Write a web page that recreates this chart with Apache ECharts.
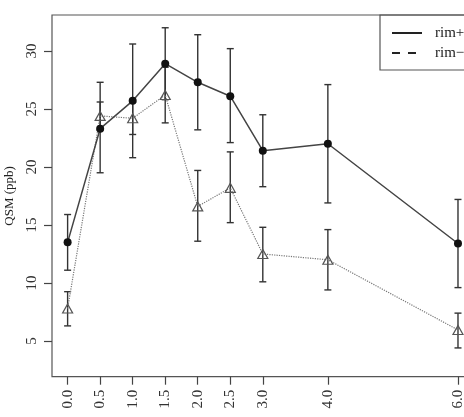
<!DOCTYPE html>
<html>
<head>
<meta charset="utf-8">
<script src="https://cdn.jsdelivr.net/npm/echarts@6/dist/echarts.min.js"></script>
<style>
    html, body { margin: 0; padding: 0; background: #fff; }
    #chart { width: 464px; height: 417px; }
</style>
</head>
<body>
<div id="chart"></div>
<script>
const xValues = [0, 0.5, 1, 1.5, 2, 2.5, 3, 4, 6]
const xTicks = [0, 0.5, 1, 1.5, 2, 2.5, 3, 4, 6]
const yTicks = [5, 10, 15, 20, 25, 30]

const rimPlus = [13.5, 23.3, 25.7, 28.9, 27.3, 26.1, 21.4, 22.0, 13.4]
const rimPlusLow = [11.1, 19.5, 20.8, 25.8, 23.2, 22.1, 18.3, 16.9, 9.6]
const rimPlusHigh = [15.9, 27.3, 30.6, 32.0, 31.4, 30.2, 24.5, 27.1, 17.2]

const rimMinus = [7.8, 24.4, 24.2, 26.2, 16.6, 18.2, 12.5, 12.0, 5.95]
const rimMinusLow = [6.3, 23.2, 22.8, 23.8, 13.6, 15.2, 10.1, 9.4, 4.4]
const rimMinusHigh = [9.25, 25.6, 25.6, 28.6, 19.7, 21.3, 14.8, 14.6, 7.4]

const font = 'Liberation Serif'

function pairs(ys) {
    return xValues.map((x, i) => [x, ys[i]])
}

function bars(lo, hi) {
    return xValues.map((x, i) => [x, lo[i], hi[i]])
}

function renderErrorBar(params, api) {
    const x = api.value(0)
    const top = api.coord([x, api.value(2)])
    const bottom = api.coord([x, api.value(1)])
    const cap = 3.5
    const style = { stroke: '#333', lineWidth: 1.4 }
    return {
        type: 'group',
        children: [
            { type: 'line', shape: { x1: top[0], y1: top[1], x2: bottom[0], y2: bottom[1] }, style: style },
            { type: 'line', shape: { x1: top[0] - cap, y1: top[1], x2: top[0] + cap, y2: top[1] }, style: style },
            { type: 'line', shape: { x1: bottom[0] - cap, y1: bottom[1], x2: bottom[0] + cap, y2: bottom[1] }, style: style }
        ]
    }
}

const chart = echarts.init(document.getElementById('chart'))

chart.setOption({
    animation: false,
    textStyle: { fontFamily: font },
    grid: {
        left: 52,
        top: 15,
        right: -9.6,
        bottom: 40.3,
        containLabel: false,
        outerBoundsMode: 'none',
        show: true,
        borderColor: '#555',
        borderWidth: 1.2
    },
    legend: {
        left: 380,
        top: 15,
        orient: 'vertical',
        padding: [10.5, 40, 9.5, 12],
        itemGap: 5,
        itemWidth: 30,
        itemHeight: 2,
        symbolKeepAspect: false,
        borderColor: '#555',
        borderWidth: 1.2,
        textStyle: { fontFamily: font, fontSize: 15, color: '#222', padding: [0, 0, 0, 8] },
        data: [
            { name: 'rim+', icon: 'rect', itemStyle: { color: '#222', borderWidth: 0 } },
            { name: 'rim\u2212', icon: 'path://M0,0h8v2h-8zM16,0h8v2h-8zM30,0h0.01v0.01h-0.01z', itemStyle: { color: '#222', borderWidth: 0 } }
        ]
    },
    xAxis: {
        type: 'value',
        min: -0.24,
        max: 6.24,
        axisLine: { show: false, onZero: false },
        splitLine: { show: false },
        axisTick: { show: true, inside: false, length: 8, customValues: xTicks, lineStyle: { color: '#444', width: 1.2 } },
        axisLabel: {
            customValues: xTicks,
            rotate: 90,
            margin: 13,
            fontSize: 15,
            fontFamily: font,
            color: '#333',
            formatter: v => v.toFixed(1)
        }
    },
    yAxis: {
        type: 'value',
        min: 1.92,
        max: 33.1,
        name: 'QSM (ppb)',
        nameLocation: 'middle',
        nameGap: 36,
        nameTextStyle: { fontFamily: font, fontSize: 13, color: '#222' },
        axisLine: { show: false, onZero: false },
        splitLine: { show: false },
        axisTick: { show: true, inside: false, length: 8, customValues: yTicks, lineStyle: { color: '#444', width: 1.2 } },
        axisLabel: {
            customValues: yTicks,
            rotate: 90,
            margin: 12,
            fontSize: 15,
            fontFamily: font,
            color: '#333'
        }
    },
    series: [{
        type: 'custom',
        renderItem: renderErrorBar,
        data: bars(rimPlusLow, rimPlusHigh),
        z: 1
    }, {
        type: 'custom',
        renderItem: renderErrorBar,
        data: bars(rimMinusLow, rimMinusHigh),
        z: 1
    }, {
        name: 'rim\u2212',
        type: 'line',
        data: pairs(rimMinus),
        symbol: 'triangle',
        symbolSize: [10, 9],
        lineStyle: { color: '#777', width: 1.2, type: 'dotted' },
        itemStyle: { color: 'rgba(255,255,255,0)', borderColor: '#555', borderWidth: 1.2 },
        z: 2
    }, {
        name: 'rim+',
        type: 'line',
        data: pairs(rimPlus),
        symbol: 'circle',
        symbolSize: 8,
        lineStyle: { color: '#444', width: 1.5 },
        itemStyle: { color: '#111' },
        z: 3
    }]
})
</script>
</body>
</html>
